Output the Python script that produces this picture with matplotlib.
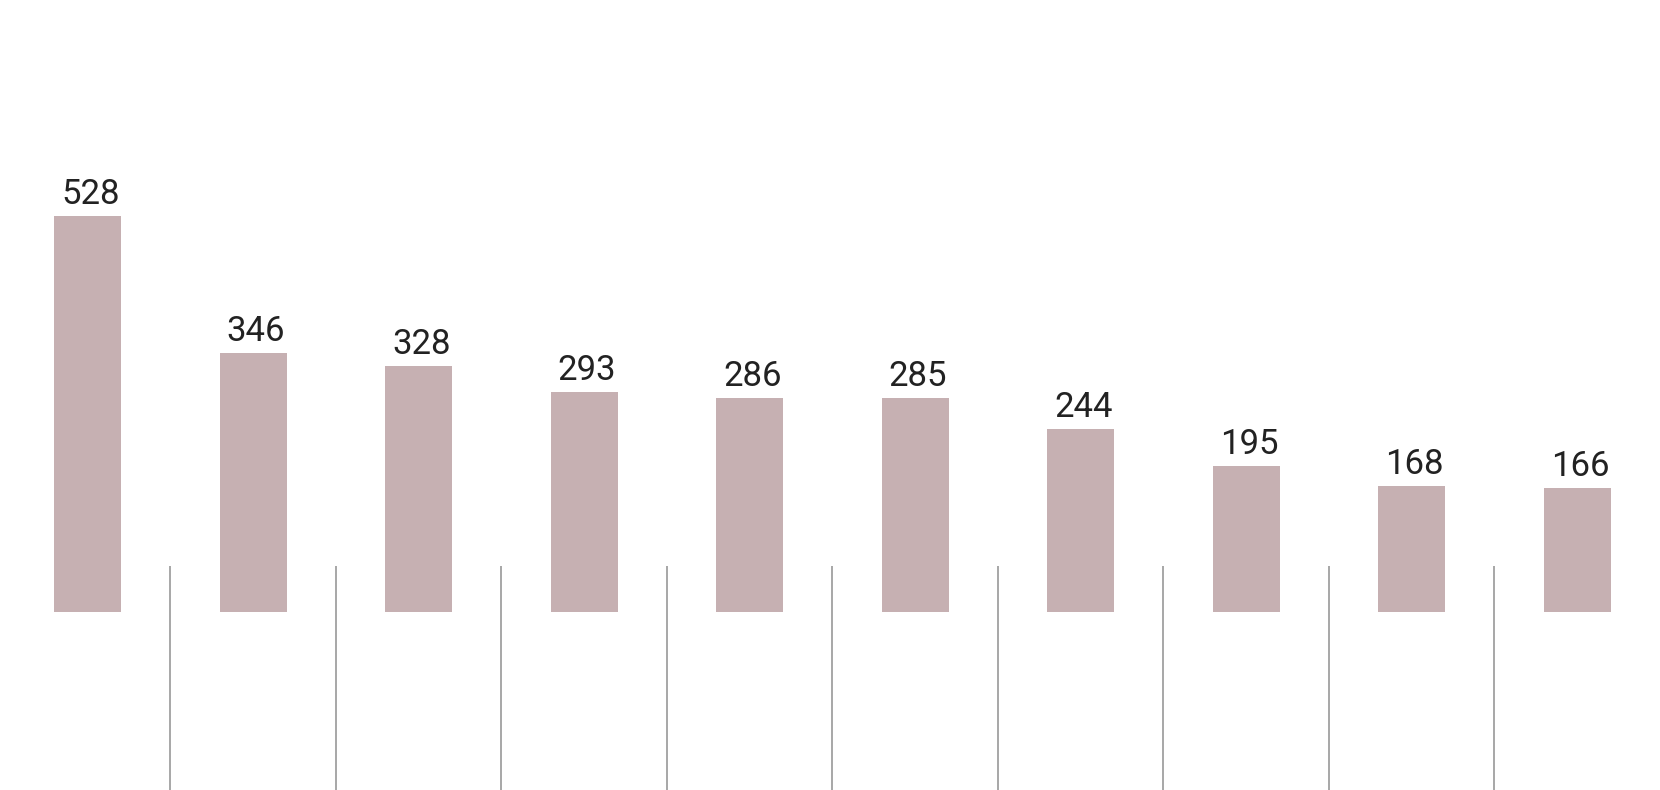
import numpy as np
import matplotlib
matplotlib.use("Agg")
import matplotlib.pyplot as plt

# values, left to right
VALUES = [528, 346, 328, 293, 286, 285, 244, 195, 168, 166]
LABELS = [str(v) for v in VALUES]

BAR_COLOR = "#c6b0b2"
SEP_COLOR = "#a0a0a0"


def main():
    fig = plt.figure(figsize=(16.6, 7.9), dpi=100)
    ax = fig.add_axes([0.003, 0.0, 0.997, 1.0])

    x = np.arange(len(VALUES))
    ax.bar(x, VALUES, width=0.405, color=BAR_COLOR, edgecolor="none")

    for xi, v, lab in zip(x, VALUES, LABELS):
        ax.annotate(lab, (xi, v), xytext=(2, 3.5), textcoords="offset points",
                    ha="center", va="bottom", fontsize=25, color="#222222",
                    family=["Roboto", "DejaVu Sans"])

    # thin separators between categories
    for xs in x[:-1] + 0.5:
        ax.plot([xs, xs], [-240, 61], color=SEP_COLOR, lw=1.3,
                solid_capstyle="butt")

    ax.set_xlim(-0.5, len(VALUES) - 0.5)
    ax.set_ylim(-237.3, 816)
    ax.axis("off")

    fig.savefig("out.png", dpi=100)
    plt.close(fig)


if __name__ == "__main__":
    main()
